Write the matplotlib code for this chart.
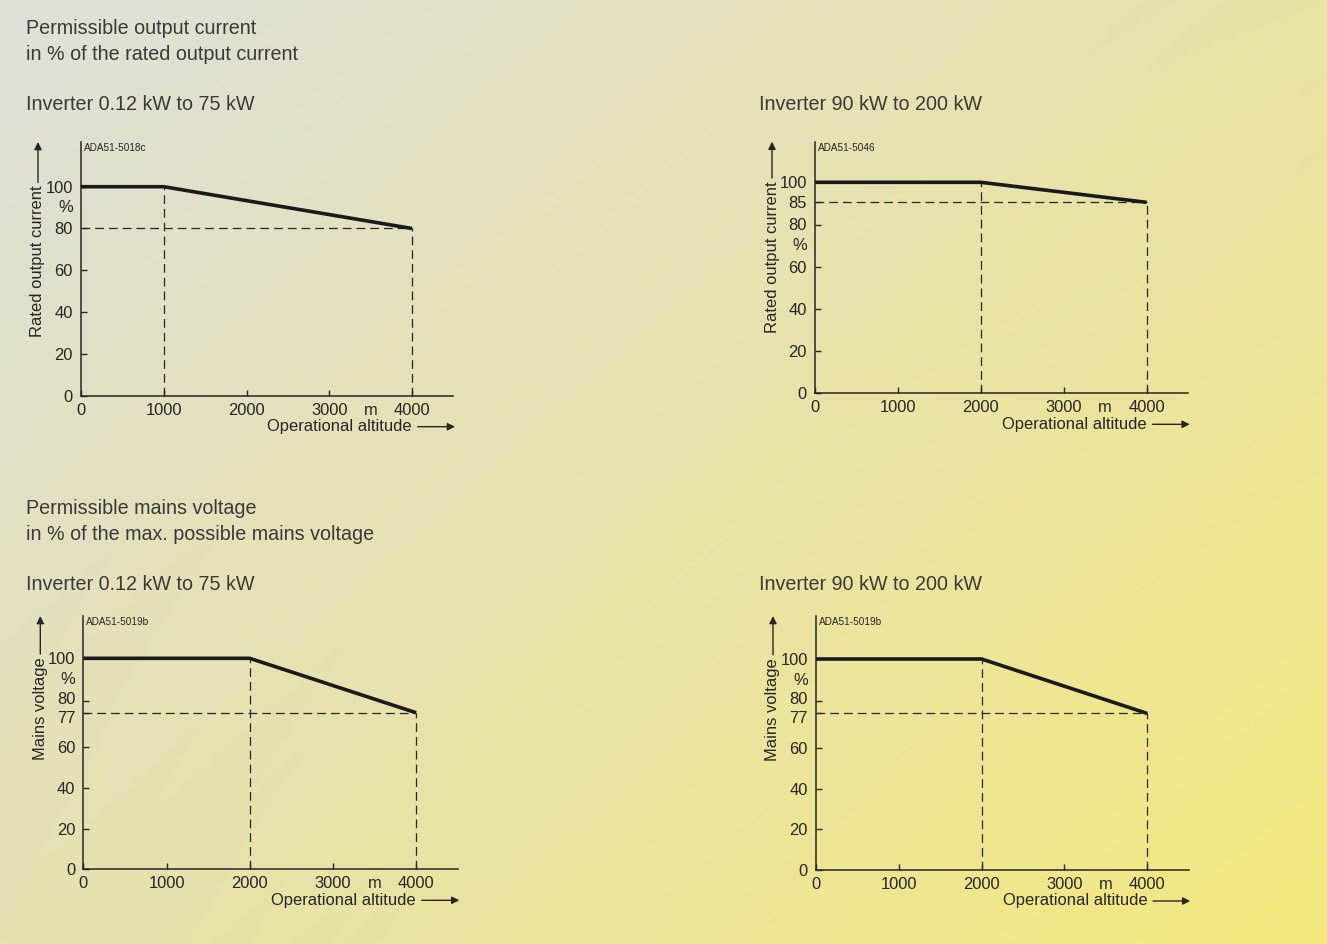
import numpy as np
import matplotlib
matplotlib.use('Agg')
import matplotlib.pyplot as plt
from matplotlib.transforms import ScaledTranslation

plt.rcParams['font.family'] = ['Liberation Sans', 'DejaVu Sans']

W, H = 1327, 944
DPI = 100

# ---------------- data ----------------
alt_p1 = [0, 1000, 4000]
cur_p1 = [100, 100, 80]
alt_p2 = [0, 2000, 4000]
cur_p2 = [100, 100, 85]
alt_p3 = [0, 2000, 4000]
volt_p3 = [100, 100, 77]
alt_p4 = [0, 2000, 4000]
volt_p4 = [100, 100, 77]

xticks = [0, 1000, 2000, 3000, 4000]
yticks_p1 = [0, 20, 40, 60, 80, 100]
yticks_p2 = [0, 20, 40, 60, 80, 85, 100]
yticks_v = [0, 20, 40, 60, 77, 80, 100]

codes = ['ADA51-5018c', 'ADA51-5046', 'ADA51-5019b', 'ADA51-5019b']
ylabels = ['Rated output current', 'Rated output current', 'Mains voltage', 'Mains voltage']
xlabel = 'Operational altitude'

head1 = ['Permissible output current', 'in % of the rated output current']
head2 = ['Permissible mains voltage', 'in % of the max. possible mains voltage']
sub_left = 'Inverter 0.12 kW to 75 kW'
sub_right = 'Inverter 90 kW to 200 kW'

TXT = '#262626'
HEAD = '#3a3a3a'
FS = 11.9
HFS = 14.2

fig = plt.figure(figsize=(W / DPI, H / DPI), dpi=DPI)

# background gradient
bg = fig.add_axes([0, 0, 1, 1])
bg.set_axis_off()
tl = np.array([0xdf, 0xdf, 0xd9]) / 255
tr = np.array([0xe8, 0xe2, 0xa6]) / 255
bl = np.array([0xe4, 0xe1, 0xb0]) / 255
br = np.array([0xf4, 0xe8, 0x7e]) / 255
u = np.linspace(0, 1, 200)[None, :, None]
v = np.linspace(0, 1, 200)[:, None, None]
img = (1 - v) * ((1 - u) * tl + u * tr) + v * ((1 - u) * bl + u * br)
bg.imshow(img, extent=[0, 1, 0, 1], aspect='auto', origin='upper')
bg.set_xlim(0, 1)
bg.set_ylim(0, 1)


def ftext(xp, yp, s, **kw):
    fig.text(xp / W, 1 - yp / H, s, **kw)


# headings
ftext(26, 28, head1[0], fontsize=HFS, color=HEAD, va='center')
ftext(26, 55, head1[1], fontsize=HFS, color=HEAD, va='center')
ftext(26, 104, sub_left, fontsize=HFS, color=HEAD, va='center')
ftext(759, 104, sub_right, fontsize=HFS, color=HEAD, va='center')
ftext(26, 509, head2[0], fontsize=HFS, color=HEAD, va='center')
ftext(26, 535, head2[1], fontsize=HFS, color=HEAD, va='center')
ftext(26, 584, sub_left, fontsize=HFS, color=HEAD, va='center')
ftext(759, 584, sub_right, fontsize=HFS, color=HEAD, va='center')


def panel(x0, y0, pxk, pyu, ytop, xs, ys, yticks, svals, spos, pct_y, code, ylabel, nudge):
    ax = fig.add_axes([x0 / W, 1 - y0 / H, 4.5 * pxk / W, (y0 - ytop) / H])
    ax.patch.set_alpha(0)
    sv = [-100] + svals + [300]
    sp = [-100] + spos + [300]
    fwd = lambda t: np.interp(t, sv, sp)
    inv = lambda t: np.interp(t, sp, sv)
    ax.set_yscale('function', functions=(fwd, inv))
    ax.set_xlim(0, 4500)
    ymax = float(inv((y0 - ytop) / pyu))
    ax.set_ylim(0, ymax)
    for s in ['top', 'right']:
        ax.spines[s].set_visible(False)
    for s in ['left', 'bottom']:
        ax.spines[s].set_linewidth(1.1)
        ax.spines[s].set_color(TXT)

    # dashed guides
    dl = dict(color=TXT, lw=0.9, linestyle=(0, (7, 4)), zorder=2, clip_on=False)
    ax.plot([xs[1], xs[1]], [0, ys[1]], **dl)
    ax.plot([xs[2], xs[2]], [0, ys[2]], **dl)
    ax.plot([0, xs[2]], [ys[2], ys[2]], **dl)
    # main curve
    ax.plot(xs, ys, color='#1a1a1a', lw=2.6, solid_capstyle='butt', zorder=3, clip_on=False)

    ax.set_xticks(xticks)
    ax.set_xticklabels([str(t) for t in xticks])
    ax.set_yticks(yticks)
    ax.set_yticklabels([str(t) for t in yticks])
    ax.tick_params(axis='x', direction='in', length=4.3, width=1, color=TXT,
                   labelsize=FS, labelcolor=TXT, pad=5)
    ax.tick_params(axis='y', direction='in', length=4.3, width=1, color=TXT,
                   labelsize=FS, labelcolor=TXT, pad=5.8)
    ax.minorticks_off()
    for lab in ax.get_yticklabels():
        dy = nudge.get(lab.get_text(), 0)
        if dy:
            lab.set_transform(lab.get_transform() +
                              ScaledTranslation(0, dy / DPI, fig.dpi_scale_trans))

    # '%' and 'm'
    ax.annotate('%', xy=(0, pct_y), xycoords=('axes fraction', 'data'),
                xytext=(-8, 0), textcoords='offset pixels', ha='right', va='center',
                fontsize=FS, color=TXT)
    ax.annotate('m', xy=(3500, 0), xycoords=('data', 'axes fraction'),
                xytext=(0, -7), textcoords='offset pixels', ha='center', va='top',
                fontsize=FS, color=TXT)
    # code label
    ax.annotate(code, xy=(0, 1), xycoords='axes fraction', xytext=(3, -6),
                textcoords='offset pixels', ha='left', va='center', fontsize=7.2, color=TXT)

    # x label + arrow
    tx = ax.get_xaxis_transform() + ScaledTranslation(0, -31 / DPI, fig.dpi_scale_trans)
    ax.text(4000, 0, xlabel, transform=tx, ha='right', va='center', fontsize=FS, color=TXT)
    ax.annotate('', xy=(4520, 0), xycoords=tx, xytext=(4070, 0), textcoords=tx,
                arrowprops=dict(arrowstyle='-|>', color=TXT, lw=1, mutation_scale=11,
                                shrinkA=0, shrinkB=0))
    # y label + arrow
    ty = ax.get_yaxis_transform() + ScaledTranslation(-43 / DPI, 0, fig.dpi_scale_trans)
    ax.text(0, 100.5, ylabel, transform=ty, rotation=90, ha='center', va='top',
            fontsize=FS, color=TXT)
    ax.annotate('', xy=(0, ymax), xycoords=ty, xytext=(0, 102), textcoords=ty,
                arrowprops=dict(arrowstyle='-|>', color=TXT, lw=1, mutation_scale=11,
                                shrinkA=0, shrinkB=0))
    return ax


panel(81, 395.7, 82.75, 2.09, 142, alt_p1, cur_p1, yticks_p1,
      [0, 100], [0, 100], 90, codes[0], ylabels[0], {})
panel(815, 393.3, 82.9, 2.11, 141.7, alt_p2, cur_p2, yticks_p2,
      [0, 80, 85, 100], [0, 80, 90.5, 100], 70, codes[1], ylabels[1], {})
panel(83.3, 869.3, 83.2, 2.11, 616, alt_p3, volt_p3, yticks_v,
      [0, 77, 80, 100], [0, 74.2, 80, 100], 90, codes[2], ylabels[2], {'80': 3, '77': -4})
panel(816, 870, 82.8, 2.11, 616, alt_p4, volt_p4, yticks_v,
      [0, 77, 80, 100], [0, 74.2, 80, 100], 90, codes[3], ylabels[3], {'80': 3, '77': -4})

fig.savefig('out.png', dpi=DPI)
